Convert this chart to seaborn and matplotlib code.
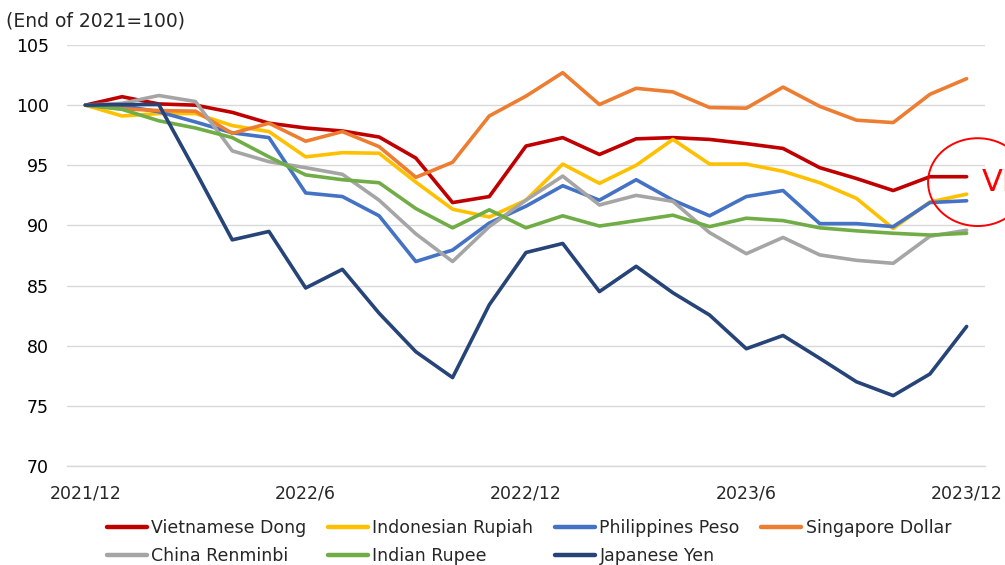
import numpy as np
import pandas as pd
import matplotlib
matplotlib.use("Agg")
import matplotlib.pyplot as plt
from matplotlib.patches import Ellipse
from matplotlib.lines import Line2D
import seaborn as sns

months = ["2021/12", "2022/1", "2022/2", "2022/3", "2022/4", "2022/5", "2022/6",
          "2022/7", "2022/8", "2022/9", "2022/10", "2022/11", "2022/12",
          "2023/1", "2023/2", "2023/3", "2023/4", "2023/5", "2023/6",
          "2023/7", "2023/8", "2023/9", "2023/10", "2023/11", "2023/12"]
tick_labels = ["2021/12", "2022/6", "2022/12", "2023/6", "2023/12"]

vietnamese_dong = [100, 100.7, 100.1, 100.0, 99.4, 98.5, 98.1, 97.85, 97.35, 95.6, 91.9, 92.4, 96.6,
                   97.3, 95.9, 97.2, 97.3, 97.15, 96.8, 96.4, 94.8, 93.9, 92.9, 94.05, 94.05]
indonesian_rupiah = [100, 99.1, 99.3, 99.3, 98.3, 97.8, 95.7, 96.05, 96.0, 93.6, 91.35, 90.7, 92.1,
                     95.1, 93.5, 95.0, 97.15, 95.1, 95.1, 94.5, 93.55, 92.25, 89.75, 91.95, 92.6]
philippines_peso = [100, 99.95, 99.45, 98.6, 97.7, 97.3, 92.7, 92.4, 90.8, 87.0, 87.95, 90.2, 91.6,
                    93.3, 92.1, 93.8, 92.1, 90.8, 92.4, 92.9, 90.15, 90.15, 89.9, 91.9, 92.05]
singapore_dollar = [100, 99.7, 99.55, 99.5, 97.65, 98.5, 97.0, 97.8, 96.55, 94.0, 95.25, 99.1, 100.75,
                    102.7, 100.05, 101.4, 101.1, 99.8, 99.75, 101.5, 99.9, 98.75, 98.55, 100.9, 102.2]
china_renminbi = [100, 100.15, 100.8, 100.3, 96.2, 95.3, 94.8, 94.25, 92.1, 89.3, 87.0, 89.9, 92.1,
                  94.1, 91.7, 92.5, 92.0, 89.4, 87.65, 89.0, 87.55, 87.1, 86.85, 89.1, 89.6]
indian_rupee = [100, 99.65, 98.7, 98.1, 97.3, 95.7, 94.2, 93.8, 93.55, 91.4, 89.8, 91.3, 89.8,
                90.8, 89.95, 90.4, 90.85, 89.9, 90.6, 90.4, 89.8, 89.55, 89.35, 89.2, 89.35]
japanese_yen = [100, 100.05, 100.05, 94.5, 88.8, 89.5, 84.8, 86.35, 82.7, 79.5, 77.35, 83.4, 87.75,
                88.5, 84.5, 86.6, 84.4, 82.55, 79.75, 80.85, 78.95, 77.0, 75.85, 77.65, 81.6]

series_names = ["Vietnamese Dong", "Indonesian Rupiah", "Philippines Peso", "Singapore Dollar",
                "China Renminbi", "Indian Rupee", "Japanese Yen"]
series_values = [vietnamese_dong, indonesian_rupiah, philippines_peso, singapore_dollar,
                 china_renminbi, indian_rupee, japanese_yen]
colors = ["#C00000", "#FFC000", "#4472C4", "#ED7D31", "#A5A5A5", "#70AD47", "#264478"]

rows = []
for name, vals in zip(series_names, series_values):
    for i, v in enumerate(vals):
        rows.append({"idx": i, "month": months[i], "value": v, "currency": name})
df = pd.DataFrame(rows)

sns.set_style("white")
plt.rcParams["font.family"] = ["DejaVu Sans"]

fig = plt.figure(figsize=(10.05, 5.65), dpi=100)
ax = fig.add_axes([67 / 1005, 1 - 466 / 565, (985 - 67) / 1005, (466 - 45) / 565])

sns.lineplot(data=df, x="idx", y="value", hue="currency", hue_order=series_names,
             palette=colors, linewidth=2.6, ax=ax, legend=False, zorder=3)

ax.set_xlim(-0.5, 24.5)
ax.set_ylim(70, 105)
ax.set_yticks(np.arange(70, 106, 5))
ax.set_yticklabels([str(v) for v in range(70, 106, 5)], fontsize=12.5, color="#000000")
ax.yaxis.grid(True, color="#D9D9D9", linewidth=1.0, zorder=0)
ax.xaxis.grid(False)
ax.tick_params(axis="y", length=0, pad=13)

tick_pos = [months.index(t) for t in tick_labels]
ax.set_xticks(tick_pos)
ax.set_xticklabels(tick_labels, fontsize=12.5)
ax.tick_params(axis="x", which="major", length=0, pad=13)
ax.set_xticks([p - 0.5 for p in tick_pos], minor=True)
ax.tick_params(axis="x", which="minor", length=5, color="#D9D9D9", width=1)

for s in ["left", "right", "top"]:
    ax.spines[s].set_visible(False)
ax.spines["bottom"].set_color("#D9D9D9")
ax.spines["bottom"].set_linewidth(1.0)
ax.set_xlabel("")
ax.set_ylabel("")

fig.text(6 / 1005, 1 - 21 / 565, "(End of 2021=100)", fontsize=13.5, va="center", ha="left")

# annotation ellipse and text (cut off at the right edge as in the reference)
ell = Ellipse((24.3, 93.6), width=2.7, height=7.3, fill=False, edgecolor="#FF0000",
              linewidth=1.4, clip_on=False, zorder=5)
ax.add_patch(ell)
ax.text(24.42, 93.6, "VN", color="#FF0000", fontsize=22, va="center", ha="left",
        clip_on=False, zorder=5)

# legend laid out row-wise (matplotlib fills columns first)
order = [0, 4, 1, 5, 2, 6, 3]
handles = [Line2D([0], [0], color=colors[k], linewidth=3.2) for k in order]
labels = [series_names[k] for k in order]
fig.legend(handles, labels, loc="lower left", bbox_to_anchor=(100 / 1005, -0.013),
           ncol=4, frameon=False, fontsize=12.5, handlelength=2.3, handletextpad=0.25,
           columnspacing=1.25, labelspacing=0.6, borderaxespad=0)

fig.savefig("out.png", dpi=100)
